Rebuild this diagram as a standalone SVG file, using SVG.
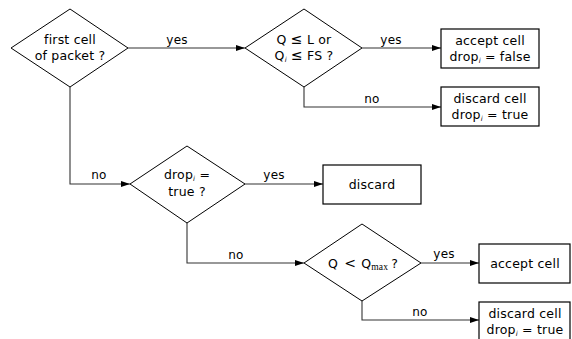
<svg xmlns="http://www.w3.org/2000/svg" width="572" height="339" viewBox="0 0 572 339">
  <style>
    .shape { fill: #fff; stroke: #000; stroke-width: 1; }
    .box { fill: #fff; stroke: #000; stroke-width: 1.2; }
    .wire { fill: none; stroke: #333; stroke-width: 1.1; marker-end: url(#tip); }
    text { font-family: "DejaVu Sans", "Liberation Sans", sans-serif; font-size: 12.5px; fill: #000; text-anchor: middle; letter-spacing: 0.2px; }
    .lbl { font-size: 12px; }
    .sub { font-size: 7px; font-style: italic; }
    .subr { font-size: 9.5px; font-family: "Liberation Serif", serif; }
    .op { font-size: 14px; }
  </style>
  <defs>
    <marker id="tip" markerUnits="userSpaceOnUse" markerWidth="9" markerHeight="6" refX="9" refY="3" orient="auto">
      <path d="M0,0 L9,3 L0,6 z" fill="#000"/>
    </marker>
  </defs>

  <rect width="572" height="339" fill="#fff"/>

  <g id="connectors">
    <path class="wire" d="M128,48 H245"/>
    <path class="wire" d="M362,48 H441"/>
    <path class="wire" d="M304,87 V107 H441"/>
    <path class="wire" d="M70,87 V184 H130"/>
    <path class="wire" d="M245,184 H323"/>
    <path class="wire" d="M187,223 V263 H304"/>
    <path class="wire" d="M421,263 H479"/>
    <path class="wire" d="M362,301 V320 H479"/>
    <text class="lbl" x="177" y="44">yes</text>
    <text class="lbl" x="391" y="44">yes</text>
    <text class="lbl" x="372" y="103">no</text>
    <text class="lbl" x="99" y="179">no</text>
    <text class="lbl" x="274" y="179">yes</text>
    <text class="lbl" x="236" y="259">no</text>
    <text class="lbl" x="444" y="258">yes</text>
    <text class="lbl" x="420" y="316">no</text>
  </g>

  <g id="first-cell">
    <polygon class="shape" points="11,48 70,9 128,48 70,87"/>
    <text x="70" y="44">first cell</text>
    <text x="70" y="60">of packet ?</text>
  </g>

  <g id="threshold">
    <polygon class="shape" points="245,48 304,9 362,48 304,87"/>
    <text x="304" y="44">Q <tspan class="op">≤</tspan> L or</text>
    <text x="304" y="60">Q<tspan class="sub" dy="2">i</tspan><tspan dy="-2"> </tspan><tspan class="op">≤</tspan> FS ?</text>
  </g>

  <g id="accept-false">
    <rect class="box" x="441" y="29" width="98" height="39"/>
    <text x="490" y="45">accept cell</text>
    <text x="490" y="61">drop<tspan class="sub" dy="2">i</tspan><tspan dy="-2"> = false</tspan></text>
  </g>

  <g id="discard-true-1">
    <rect class="box" x="441" y="87" width="98" height="39"/>
    <text x="490" y="103">discard cell</text>
    <text x="490" y="119">drop<tspan class="sub" dy="2">i</tspan><tspan dy="-2"> = true</tspan></text>
  </g>

  <g id="drop-check">
    <polygon class="shape" points="130,184 187,146 245,184 187,223"/>
    <text x="187" y="179">drop<tspan class="sub" dy="2">i</tspan><tspan dy="-2"> =</tspan></text>
    <text x="187" y="196">true ?</text>
  </g>

  <g id="discard">
    <rect class="box" x="323" y="165" width="98" height="39"/>
    <text x="372" y="189">discard</text>
  </g>

  <g id="qmax-check">
    <polygon class="shape" points="304,263 362,224 421,263 362,301"/>
    <text x="363" y="268">Q <tspan class="op" dx="2">&lt;</tspan><tspan dx="5">Q</tspan><tspan class="subr" dy="2">max</tspan><tspan dy="-2" dx="3">?</tspan></text>
  </g>

  <g id="accept">
    <rect class="box" x="479" y="244" width="91" height="39"/>
    <text x="525" y="268">accept cell</text>
  </g>

  <g id="discard-true-2">
    <rect class="box" x="479" y="302" width="91" height="45"/>
    <text x="525" y="318">discard cell</text>
    <text x="525" y="334">drop<tspan class="sub" dy="2">i</tspan><tspan dy="-2"> = true</tspan></text>
  </g>
</svg>
